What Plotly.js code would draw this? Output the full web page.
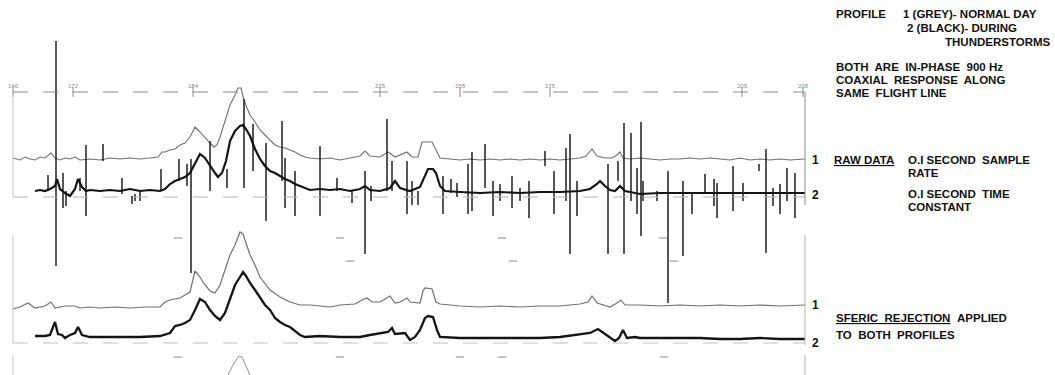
<!DOCTYPE html>
<html><head><meta charset="utf-8">
<script src="https://cdn.plot.ly/plotly-3.0.1.min.js"></script>
<style>html,body{margin:0;padding:0;background:#fff}#chart{width:1055px;height:375px}</style>
</head><body><div id="chart"></div>
<script>
// Distance along flight line (arbitrary units) and in-phase amplitude relative to each profile's base level
const rawGreyX = [0,7,12,17,22,27,32,38,42,47,52,57,62,67,77,87,97,107,117,127,137,145,149,152,157,162,167,172,177,182,187,192,197,201,204,207,212,217,222,225,228,231,234,237,242,247,252,257,262,267,272,277,282,287,292,297,307,317,327,337,347,352,357,367,375,382,394,399,405,409,419,423,427,437,447,457,467,477,487,497,507,517,527,537,547,557,567,573,579,584,592,599,604,607,610,617,627,637,647,657,667,677,687,697,707,717,727,737,747,757,767,777,792];
const rawGreyAmp = [2,0,3,1,0,3,2,7,2,0,2,1,3,0,1,0,2,1,2,1,2,3,8,8,10,11,15,17,23,33,28,22,17,13,15,23,40,55,65,72,72,60,52,45,38,30,25,20,15,13,12,10,8,5,3,2,1,2,0,2,4,9,4,3,8,3,8,3,3,18,18,10,2,1,0,1,0,1,0,1,0,1,0,1,0,1,2,4,11,4,2,2,5,8,2,1,2,1,0,1,1,2,1,2,1,0,2,0,1,0,1,0,1];

const rawBlackX = [22,27,32,37,42,44,47,52,57,62,65,69,73,77,87,97,107,117,127,137,147,152,157,162,167,172,177,182,187,192,197,202,205,209,213,217,222,227,230,233,237,242,247,252,257,262,267,272,277,282,287,292,297,307,317,327,337,347,352,357,367,377,382,387,397,407,412,415,420,423,427,432,447,467,487,507,527,547,567,577,584,587,592,597,602,607,612,627,647,667,687,707,727,747,767,792];
const rawBlackAmp = [0,1,0,2,5,12,2,-2,-5,2,12,4,0,1,0,1,0,2,0,1,0,2,7,10,12,14,18,27,37,33,25,18,14,18,30,50,60,65,66,62,55,42,32,25,20,18,15,12,10,7,5,3,1,2,1,2,0,2,5,1,0,3,10,3,0,4,15,22,22,18,5,0,-1,-2,-1,-2,-1,-1,0,2,7,10,5,1,0,5,0,-3,-2,-2,-2,-2,-2,-2,-2,-2];

// sferic spikes on the raw thunderstorm profile (top / bottom amplitude)
const spikeX = [43,35,50,53,67,73,90,109,119,122,127,148,166,174,178,197,214,231,240,253,269,272,282,307,324,339,352,358,374,379,394,399,405,430,438,444,455,459,472,480,487,499,507,516,532,541,553,557,564,595,605,611,618,624,628,630,644,655,670,679,692,701,704,720,730,746,753,760,767,774,782];
const spikeTop = [150,16,18,0,13,46,47,13,-5,-3,0,22,32,27,32,50,22,92,67,48,70,33,20,45,13,0,20,5,72,30,30,10,0,15,12,8,27,39,47,10,7,15,3,10,40,20,43,57,10,27,30,68,58,23,69,10,0,20,10,-2,17,12,8,25,8,27,42,3,7,23,18];
const spikeBottom = [-75,0,-17,-15,0,-25,30,-3,-13,-10,-10,1,10,5,-82,0,3,3,20,-30,10,-17,-25,-25,0,-12,-63,-10,0,0,-23,-14,-14,-23,-2,-6,-23,-20,3,-25,-10,-17,-10,-27,25,-23,-10,-63,-25,-63,10,-63,-10,-23,-45,-10,-10,-112,-65,-23,-2,-15,-27,-20,-10,20,-62,-15,-23,-10,-27];

const filtGreyX = [0,7,15,22,32,38,42,52,62,67,77,87,102,117,132,147,152,157,162,167,172,177,182,187,192,197,202,207,212,217,222,227,230,235,237,242,247,257,267,277,287,297,317,327,342,349,354,359,367,377,382,387,394,397,407,410,412,419,423,427,447,467,487,507,527,547,567,575,579,584,597,604,608,612,627,647,667,687,707,727,747,767,792];
const filtGreyAmp = [-3,-1,3,-2,0,4,-2,0,0,-2,-1,-2,-1,-2,-1,-1,4,6,7,8,11,14,35,29,21,15,13,21,36,51,61,74,72,56,51,41,29,16,9,4,1,1,-1,1,2,6,8,4,4,10,3,4,8,4,3,15,18,17,4,2,0,-1,0,-1,0,0,2,4,10,3,-1,3,6,1,1,0,1,0,1,0,1,0,1];

const filtBlackX = [22,32,37,42,45,49,52,57,62,65,69,77,87,107,127,147,157,162,167,172,177,182,187,192,197,202,207,212,217,222,227,230,233,237,242,247,252,257,262,267,272,277,287,292,307,327,347,357,367,375,379,382,392,397,402,407,412,415,420,424,427,447,467,487,507,527,547,577,585,589,597,602,606,610,614,622,627,647,667,687,707,727,747,767,792];
const filtBlackAmp = [1,1,2,15,3,2,-1,2,4,10,2,0,0,0,0,1,4,11,12,14,17,27,38,35,27,21,17,24,39,52,60,65,61,54,47,39,32,27,19,15,12,10,2,0,1,0,0,2,4,5,9,3,4,-3,0,7,19,21,20,7,0,-1,-1,-1,-1,-1,0,4,8,5,-1,-4,-1,7,-1,0,-1,-1,-1,-1,-2,-2,-1,-2,-2];

// start of the next (cropped) profile below
const thirdX = [215,220,225,227,229,233,237];
const thirdAmp = [0,10,18,19,18,9,0];

// fiducial marks along the flight line
const fidX = [0,60,180,367,447,537,729,790];
const fidLabels = ["140","172","184","225","158","175","209","208"];
const fidMarkX = [165,327,489,650,337,500,661,165,327,447,489,651];
const fidMarkRow = [0,0,0,0,1,1,1,2,2,2,2,2];

// ---------- layout (screen positions) ----------
const X0 = 13;
const base = {rawGrey:160, rawBlack:191, filtGrey:306, filtBlack:337, third:375};
const rowY = [238, 261, 357];
const sub = (b, arr) => arr.map(v => b - v);

const spX = [], spY = [];
spikeX.forEach((x,i)=>{ spX.push(x,x,null); spY.push(base.rawBlack-spikeTop[i], base.rawBlack-spikeBottom[i], null); });

const grey = '#707070', black = '#141414';
const traces = [
  {x:rawGreyX, y:sub(base.rawGrey, rawGreyAmp), mode:'lines', line:{color:grey, width:1.1}},
  {x:spX, y:spY, mode:'lines', line:{color:'#1e1e1e', width:1.5}},
  {x:rawBlackX, y:sub(base.rawBlack, rawBlackAmp), mode:'lines', line:{color:black, width:2.2}},
  {x:filtGreyX, y:sub(base.filtGrey, filtGreyAmp), mode:'lines', line:{color:grey, width:1.2}},
  {x:filtBlackX, y:sub(base.filtBlack, filtBlackAmp), mode:'lines', line:{color:black, width:2.3}},
  {x:thirdX, y:sub(base.third, thirdAmp), mode:'lines', line:{color:'#909090', width:1}},
  {x:fidMarkX, y:fidMarkRow.map(r=>rowY[r]), mode:'markers', marker:{symbol:'line-ew', size:6, line:{color:'#888', width:1}}},
  {x:fidX, y:fidX.map(()=>92), mode:'markers', marker:{symbol:'line-ns', size:7, line:{color:'#888', width:1}}}
];

const L = (x0,y0,x1,y1,color,dash,w) => ({type:'line', xref:'x', yref:'y', x0:x0-X0, y0:y0, x1:x1-X0, y1:y1, line:{color:color, width:w||1, dash:dash||'solid'}});
const shapes = [
  L(13,92,805,92,'#8a8a8a','longdash'),
  L(13,197,805,197,'#b5b5b5','longdash'),
  L(13,92,13,197,'#c8c8c8'),
  L(805,92,805,205,'#8a8a8a'),
  L(13,235,13,343,'#c8c8c8'),
  L(805,235,805,345,'#b0b0b0'),
  L(13,343,805,343,'#c0c0c0','longdash'),
  L(13,355,13,375,'#c8c8c8'),
  L(805,355,805,375,'#b0b0b0')
];

const F = {family:'Liberation Sans, Arial, sans-serif', size:11.5, color:'#111', weight:'bold'};
const F12 = Object.assign({}, F, {size:12});
const FU = Object.assign({}, F, {lineposition:'under'});
const A = (px, py, text, font, extra) => Object.assign({xref:'x', yref:'y', x:px-X0, y:py, text:text, showarrow:false, xanchor:'left', yanchor:'middle', font:font||F, borderpad:0}, extra||{});
const annotations = [
  A(835,14,'PROFILE'),
  A(902,14,'1 (GREY)- NORMAL DAY'),
  A(906,28,'2 (BLACK)- DURING'),
  A(1052,42,'THUNDERSTORMS', F, {xanchor:'right'}),
  A(835,67,'BOTH  ARE  IN-PHASE  900 Hz'),
  A(835,80,'COAXIAL  RESPONSE  ALONG'),
  A(835,93,'SAME  FLIGHT LINE'),
  A(811,160,'1', F12),
  A(833,160,'RAW DATA', FU),
  A(907,160,'O.I SECOND  SAMPLE'),
  A(907,173,'RATE'),
  A(811,195,'2', F12),
  A(907,194,'O.I SECOND  TIME'),
  A(907,207,'CONSTANT'),
  A(811,305,'1', F12),
  A(835,318,'SFERIC  REJECTION', FU),
  A(956,318,'APPLIED'),
  A(835,335,'TO  BOTH  PROFILES'),
  A(811,343,'2', F12)
];
fidX.forEach((x,i)=>annotations.push({xref:'x', yref:'y', x:x, y:86, text:fidLabels[i], showarrow:false, xanchor:'center', yanchor:'middle', font:{family:'Liberation Sans, Arial', size:6, color:'#8a8a8a'}}));

const layout = {
  width:1055, height:375, margin:{l:0,r:0,t:0,b:0},
  paper_bgcolor:'#fff', plot_bgcolor:'#fff', showlegend:false,
  xaxis:{range:[-X0, 1055-X0], visible:false, fixedrange:true},
  yaxis:{range:[375, 0], visible:false, fixedrange:true},
  shapes:shapes, annotations:annotations
};
Plotly.newPlot('chart', traces, layout, {staticPlot:true, displayModeBar:false});
</script></body></html>
